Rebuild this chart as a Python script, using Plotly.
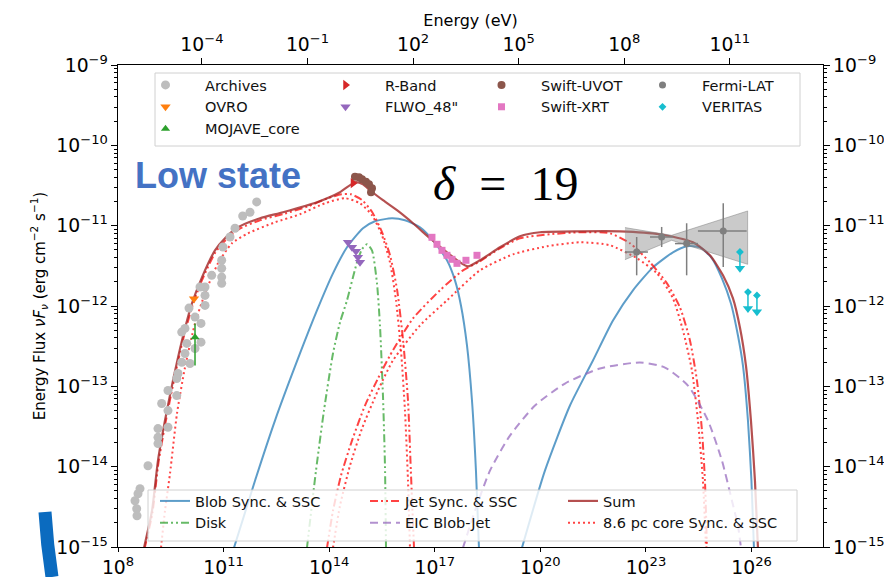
import plotly.graph_objects as go

H_EV_S = 4.135667e-15  # Planck constant (eV s), converts frequency to photon energy

# ---------------- model curves: log10(nu/Hz), log10(nuFnu / erg cm^-2 s^-1) ----------------
blob_sync_lognu = [11.295, 11.892, 12.46, 13.17, 13.653, 14.108, 14.506, 14.96, 15.301, 15.784,
                   16.153, 16.58, 16.949, 17.347, 17.574, 17.744, 17.915, 18.057, 18.17, 18.256]
blob_sync_logf = [-15.01, -14.175, -13.426, -12.591, -12.055, -11.594, -11.269, -11.032, -10.945, -10.908,
                  -10.933, -11.02, -11.182, -11.431, -11.681, -11.993, -12.491, -13.177, -14.05, -15.01]
blob_ssc_lognu = [19.477, 20.13, 20.841, 21.494, 22.063, 22.631, 23.199, 23.767, 24.165, 24.534,
                  24.875, 25.159, 25.415, 25.614, 25.756, 25.898, 25.997, 26.068]
blob_ssc_logf = [-15.01, -14.05, -13.239, -12.678, -12.18, -11.805, -11.519, -11.332, -11.257, -11.269,
                 -11.406, -11.656, -11.968, -12.367, -12.741, -13.426, -14.175, -15.01]

disk_lognu = [13.369, 13.625, 13.852, 14.108, 14.307, 14.506, 14.79, 14.932, 15.074, 15.216,
              15.358, 15.443, 15.528, 15.585, 15.614]
disk_logf = [-15.01, -14.05, -13.302, -12.591, -12.204, -11.93, -11.456, -11.294, -11.232, -11.307,
             -11.718, -12.242, -13.115, -13.988, -15.01]

jet_sync_lognu = [8.75, 8.98, 9.15, 9.35, 9.58, 9.83, 10.12, 10.40, 10.77, 11.06, 11.43, 12.05, 12.70,
                  13.40, 13.95, 14.35, 14.62, 14.93, 15.22, 15.50, 15.73, 15.93, 16.10, 16.24, 16.32, 16.41]
jet_sync_logf = [-15.03, -14.57, -13.95, -13.45, -12.95, -12.45, -11.99, -11.665, -11.33, -11.18, -11.045,
                 -10.93, -10.855, -10.76, -10.66, -10.61, -10.61, -10.68, -10.83, -11.08, -11.37, -11.80,
                 -12.43, -13.18, -14.05, -15.01]
jet_ssc_lognu = [13.938, 14.108, 14.335, 14.648, 15.017, 15.386, 15.727, 16.381, 17.148, 17.801, 18.284,
                 18.852, 19.42, 20.273, 21.125, 21.977, 22.545, 23.114, 23.597, 23.966, 24.25, 24.449,
                 24.591, 24.676, 24.733]
jet_ssc_logf = [-15.01, -14.549, -14.112, -13.676, -13.239, -12.903, -12.616, -12.155, -11.805, -11.556,
                -11.444, -11.282, -11.157, -11.107, -11.082, -11.095, -11.219, -11.456, -11.718, -12.017,
                -12.429, -12.928, -13.551, -14.175, -15.01]

eic_lognu = [17.801, 18.142, 18.568, 19.136, 19.847, 20.699, 21.693, 22.83, 23.54, 24.193, 24.761,
             25.159, 25.443, 25.614, 25.699]
eic_logf = [-15.01, -14.549, -14.05, -13.614, -13.239, -12.965, -12.778, -12.703, -12.766, -12.99,
            -13.426, -13.925, -14.424, -14.736, -15.01]

sum_lognu = [8.739, 8.966, 9.136, 9.335, 9.563, 9.818, 10.102, 10.386, 10.756, 11.04, 11.409, 12.034,
             12.688, 13.653, 14.307, 14.733, 14.96, 15.159, 15.528, 15.926, 16.381, 16.864, 17.347,
             17.716, 17.943, 18.284, 18.852, 19.42, 19.989, 21.125, 22.261, 23.398, 24.335, 24.818,
             25.188, 25.472, 25.67, 25.841, 25.983, 26.097, 26.182]
sum_logf = [-15.01, -14.549, -13.925, -13.426, -12.928, -12.429, -11.968, -11.643, -11.307, -11.157,
            -11.02, -10.908, -10.833, -10.708, -10.584, -10.459, -10.484, -10.559, -10.683, -10.808,
            -10.970, -11.157, -11.332, -11.456, -11.506, -11.431, -11.269, -11.132, -11.082, -11.07,
            -11.07, -11.107, -11.207, -11.369, -11.618, -11.905, -12.267, -12.741, -13.426, -14.175, -15.01]

core_sync_lognu = [9.222, 9.335, 9.477, 9.676, 9.903, 10.188, 10.472, 10.841, 11.239, 11.693, 12.46,
                   13.17, 13.881, 14.449, 14.875, 15.216, 15.5, 15.727, 15.898, 16.04, 16.153, 16.239, 16.295]
core_sync_logf = [-15.01, -14.549, -14.087, -13.339, -12.766, -12.217, -11.843, -11.469, -11.219, -11.095,
                  -10.958, -10.858, -10.721, -10.658, -10.721, -10.870, -11.12, -11.456, -11.93, -12.554,
                  -13.302, -14.175, -15.01]
core_ssc_lognu = [14.108, 14.307, 14.591, 14.932, 15.386, 15.812, 16.58, 17.347, 18.284, 19.222, 20.188,
                  21.125, 21.977, 22.744, 23.313, 23.767, 24.051, 24.307, 24.477, 24.619, 24.705]
core_ssc_logf = [-15.01, -14.486, -13.988, -13.526, -13.052, -12.678, -12.242, -11.93, -11.556, -11.357,
                 -11.257, -11.207, -11.244, -11.406, -11.594, -11.905, -12.304, -12.803, -13.426, -14.175,
                 -15.01]

# ---------------- observations (log10 values) ----------------
archives_lognu = [11.94, 11.75, 11.543, 11.324, 11.182, 10.983, 10.946, 10.946, 10.946, 10.946, 10.662,
                  10.472, 10.472, 10.472, 10.33, 10.017, 10.188, 10.358, 9.903, 9.81, 10.358, 10.188,
                  9.952, 9.903, 10.045, 9.81, 9.705, 9.668, 9.42, 9.668, 9.241, 9.42, 9.42, 9.136, 9.136,
                  9.136, 8.852, 8.625, 8.568, 8.483, 8.531, 8.54]
archives_logf = [-10.704, -10.833, -10.879, -11.032, -11.141, -11.266, -11.431, -11.531, -11.64, -11.718,
                 -11.618, -11.764, -11.868, -11.993, -11.764, -12.026, -12.138, -12.217, -12.279, -12.325,
                 -12.45, -12.529, -12.466, -12.591, -12.716, -12.7, -12.84, -12.903, -13.052, -13.115,
                 -13.214, -13.302, -13.51, -13.526, -13.635, -13.713, -13.988, -14.274, -14.337, -14.424,
                 -14.524, -14.611]

ovro_lognu = [10.159]
ovro_logf = [-11.909]

mojave_lognu = [10.188]
mojave_logf = [-12.388]
mojave_logf_hi = [-12.217]
mojave_logf_lo = [-12.741]

rband_lognu = [14.676]
rband_logf = [-10.471]

uvot_lognu = [14.733, 14.847, 14.932, 15.045, 15.131, 15.216, 15.188]
uvot_logf = [-10.39, -10.397, -10.421, -10.453, -10.484, -10.534, -10.584]

flwo_lognu = [14.534, 14.648, 14.761, 14.818, 14.875]
flwo_logf = [-11.207, -11.269, -11.319, -11.394, -11.456]

xrt_lognu = [16.92, 17.063, 17.205, 17.347, 17.489, 17.631, 17.886, 18.199]
xrt_logf = [-11.145, -11.232, -11.307, -11.369, -11.419, -11.469, -11.431, -11.369]

lat_lognu = [22.736, 23.446, 24.156, 25.196]
lat_lognu_lo = [22.403, 23.114, 23.824, 24.477]
lat_lognu_hi = [23.057, 23.767, 24.477, 25.861]
lat_logf = [-11.328, -11.141, -11.223, -11.066]
lat_logf_lo = [-11.618, -11.266, -11.618, -11.515]
lat_logf_hi = [-11.141, -11.016, -10.970, -10.721]

# Fermi-LAT butterfly envelope (upper edge then lower edge)
bowtie_lognu = [22.403, 23.73, 25.889, 25.889, 23.73, 22.403]
bowtie_logf = [-11.024, -11.12, -10.817, -11.481, -11.182, -11.423]

veritas_lognu = [25.67, 25.898, 26.153]
veritas_logf = [-11.328, -11.827, -11.868]
veritas_arrow_logf = [-11.531, -12.03, -12.071]

# ---------------- helpers ----------------
def lin(vals):
    return [None if v is None else 10.0 ** v for v in vals]


def joined(x1, y1, x2, y2):
    return lin(x1) + [None] + lin(x2), lin(y1) + [None] + lin(y2)


# pixel -> paper conversion for the plot frame (left 118, right 823, top 65, bottom 547)
PL, PR, PT, PB = 118, 823, 65, 547


def px(x):
    return (x - PL) / (PR - PL)


def py(y):
    return (PB - y) / (PB - PT)


FONT = "DejaVu Sans"
fig = go.Figure()

line_kw = dict(mode="lines", line_shape="spline", hoverinfo="skip")

bx, by = joined(blob_sync_lognu, blob_sync_logf, blob_ssc_lognu, blob_ssc_logf)
fig.add_trace(go.Scatter(x=bx, y=by, name="Blob Sync. & SSC", legend="legend5", legendrank=1,
                         line=dict(color="rgba(31,119,180,0.72)", width=2, smoothing=0.6), **line_kw))
fig.add_trace(go.Scatter(x=lin(disk_lognu), y=lin(disk_logf), name="Disk", legend="legend5", legendrank=2,
                         line=dict(color="rgba(44,160,44,0.72)", width=2, smoothing=0.6,
                                   dash="8px,3px,2px,3px,2px,3px"), **line_kw))
jx, jy = joined(jet_sync_lognu, jet_sync_logf, jet_ssc_lognu, jet_ssc_logf)
fig.add_trace(go.Scatter(x=jx, y=jy, name="Jet Sync. & SSC", legend="legend6", legendrank=1,
                         line=dict(color="rgba(255,20,20,0.8)", width=2, smoothing=0.6,
                                   dash="8px,3px,2px,3px,2px,3px"), **line_kw))
fig.add_trace(go.Scatter(x=lin(eic_lognu), y=lin(eic_logf), name="EIC Blob-Jet", legend="legend6", legendrank=2,
                         line=dict(color="rgba(148,103,189,0.72)", width=2, smoothing=0.6,
                                   dash="8px,5px"), **line_kw))
cx, cy = joined(core_sync_lognu, core_sync_logf, core_ssc_lognu, core_ssc_logf)
fig.add_trace(go.Scatter(x=cx, y=cy, name="8.6 pc core Sync. & SSC", legend="legend7", legendrank=2,
                         line=dict(color="rgba(255,20,20,0.8)", width=2, smoothing=0.6,
                                   dash="2px,3px"), **line_kw))
fig.add_trace(go.Scatter(x=lin(sum_lognu), y=lin(sum_logf), name="Sum", legend="legend7", legendrank=1,
                         line=dict(color="rgba(165,42,42,0.82)", width=2.2, smoothing=0.6), **line_kw))

# Fermi-LAT butterfly
fig.add_trace(go.Scatter(x=lin(bowtie_lognu), y=lin(bowtie_logf), mode="lines", fill="toself",
                         fillcolor="rgba(128,128,128,0.42)", line=dict(color="rgba(128,128,128,0.5)", width=1),
                         showlegend=False, hoverinfo="skip"))

pt_kw = dict(mode="markers", hoverinfo="skip")

fig.add_trace(go.Scatter(x=lin(archives_lognu), y=lin(archives_logf), name="Archives",
                         legend="legend", legendrank=1,
                         marker=dict(symbol="circle", size=9, color="#bdbdbd"), **pt_kw))
fig.add_trace(go.Scatter(x=lin(ovro_lognu), y=lin(ovro_logf), name="OVRO", legend="legend", legendrank=2,
                         marker=dict(symbol="triangle-down", size=9, color="#ff7f0e"), **pt_kw))
m_y = 10.0 ** mojave_logf[0]
fig.add_trace(go.Scatter(x=lin(mojave_lognu), y=lin(mojave_logf), name="MOJAVE_core",
                         legend="legend", legendrank=3,
                         marker=dict(symbol="triangle-up", size=8, color="#2ca02c"),
                         error_y=dict(type="data", symmetric=False,
                                      array=[10.0 ** mojave_logf_hi[0] - m_y],
                                      arrayminus=[m_y - 10.0 ** mojave_logf_lo[0]],
                                      color="#2ca02c", thickness=1.5, width=0), **pt_kw))
fig.add_trace(go.Scatter(x=lin(uvot_lognu), y=lin(uvot_logf), name="Swift-UVOT", legend="legend3",
                         legendrank=1, marker=dict(symbol="circle", size=8, color="#8c564b"), **pt_kw))
fig.add_trace(go.Scatter(x=lin(rband_lognu), y=lin(rband_logf), name="R-Band", legend="legend2",
                         legendrank=1, marker=dict(symbol="triangle-right", size=9, color="#d62728"), **pt_kw))
fig.add_trace(go.Scatter(x=lin(flwo_lognu), y=lin(flwo_logf), name="FLWO_48\"", legend="legend2",
                         legendrank=2, marker=dict(symbol="triangle-down", size=9, color="#9467bd"), **pt_kw))
fig.add_trace(go.Scatter(x=lin(xrt_lognu), y=lin(xrt_logf), name="Swift-XRT", legend="legend3",
                         legendrank=2, marker=dict(symbol="square", size=7, color="#e377c2"), **pt_kw))

lat_x = lin(lat_lognu)
lat_y = lin(lat_logf)
fig.add_trace(go.Scatter(
    x=lat_x, y=lat_y, name="Fermi-LAT", legend="legend4", legendrank=1,
    marker=dict(symbol="circle", size=7, color="#7f7f7f"),
    error_x=dict(type="data", symmetric=False,
                 array=[10.0 ** h - v for h, v in zip(lat_lognu_hi, lat_x)],
                 arrayminus=[v - 10.0 ** l for l, v in zip(lat_lognu_lo, lat_x)],
                 color="#7f7f7f", thickness=1.5, width=0),
    error_y=dict(type="data", symmetric=False,
                 array=[10.0 ** h - v for h, v in zip(lat_logf_hi, lat_y)],
                 arrayminus=[v - 10.0 ** l for l, v in zip(lat_logf_lo, lat_y)],
                 color="#7f7f7f", thickness=1.5, width=0),
    **pt_kw))

# VERITAS upper limits: marker, stem and arrow head
ver_x = lin(veritas_lognu)
ver_y = lin(veritas_logf)
fig.add_trace(go.Scatter(
    x=ver_x, y=ver_y, name="VERITAS", legend="legend4", legendrank=2,
    marker=dict(symbol="diamond", size=6, color="#17becf"),
    error_y=dict(type="data", symmetric=False, array=[0] * len(ver_y),
                 arrayminus=[v - 10.0 ** a for v, a in zip(ver_y, veritas_arrow_logf)],
                 color="#17becf", thickness=1.5, width=0),
    **pt_kw))
fig.add_trace(go.Scatter(x=ver_x, y=lin(veritas_arrow_logf), mode="markers", showlegend=False,
                         hoverinfo="skip", marker=dict(symbol="triangle-down", size=9, color="#17becf")))

# traces that anchor the top (energy) and right axes
fig.add_trace(go.Scatter(x=[], y=[], xaxis="x2", yaxis="y", showlegend=False, hoverinfo="skip"))
fig.add_trace(go.Scatter(x=[], y=[], xaxis="x", yaxis="y2", showlegend=False, hoverinfo="skip"))

nu_min_log, nu_max_log = 8.0, 28.03
ev_shift = -14.3835  # log10(h in eV s)

tickfont = dict(family=FONT, size=15, color="black")
axis_common = dict(type="log", showgrid=False, zeroline=False, showline=True, linecolor="black",
                   linewidth=1.2, ticks="outside", tickwidth=1.2, tickcolor="black",
                   exponentformat="power", tickfont=tickfont, automargin=False)
y_minor = dict(ticks="outside", ticklen=3, tickwidth=1, tickcolor="black", dtick="D1", showgrid=False)

# legend columns: (legend id, left edge of entry in px, first row centre in px, symbol width)
LEG_FONT = dict(family=FONT, size=14.5, color="#111")
legend_cols = {
    "legend": (126, 86, 69), "legend2": (306, 86, 69), "legend3": (462, 86, 69), "legend4": (623, 86, 69),
    "legend5": (155, 502, 30), "legend6": (365, 502, 30), "legend7": (563, 502, 30),
}
legend_layout = {
    name: dict(x=px(lx), y=py(ry - 17), xanchor="left", yanchor="top", orientation="v",
               traceorder="normal", bgcolor="rgba(0,0,0,0)", borderwidth=0, font=LEG_FONT,
               tracegroupgap=0, itemwidth=iw)
    for name, (lx, ry, iw) in legend_cols.items()
}

fig.update_layout(
    width=884, height=577,
    margin=dict(l=PL, r=884 - PR, t=PT, b=577 - PB),
    paper_bgcolor="white", plot_bgcolor="white",
    font=dict(family=FONT, size=15, color="black"),
    xaxis=dict(range=[nu_min_log, nu_max_log], tick0=8, dtick=3, ticklen=4, **axis_common),
    xaxis2=dict(range=[nu_min_log + ev_shift, nu_max_log + ev_shift], tick0=-4, dtick=3, ticklen=6,
                overlaying="x", side="top",
                title=dict(text="Energy (eV)", font=dict(family=FONT, size=16), standoff=0),
                **axis_common),
    yaxis=dict(range=[-15, -9], dtick=1, ticklen=6, minor=y_minor,
               title=dict(text="Energy Flux <i>νF<sub>ν</sub></i> (erg cm<sup>−2</sup> s<sup>−1</sup>)",
                          font=dict(family=FONT, size=15), standoff=7),
               **axis_common),
    yaxis2=dict(range=[-15, -9], dtick=1, ticklen=6, minor=y_minor, overlaying="y", side="right",
                **axis_common),
    showlegend=True,
    **legend_layout,
)

# legend frames
for (x0, y0, x1, y1) in [(155, 73, 800, 146), (148, 490, 797, 541)]:
    fig.add_shape(type="rect", xref="paper", yref="paper", x0=px(x0), x1=px(x1), y0=py(y1), y1=py(y0),
                  fillcolor="rgba(255,255,255,0.8)", line=dict(color="#d0d0d0", width=1), layer="above")

fig.add_annotation(text="<b>Low state</b>", xref="paper", yref="paper",
                   x=px(218), y=py(175), xanchor="center", yanchor="middle", showarrow=False,
                   font=dict(family="Liberation Sans", size=36, color="#4472C4"))
fig.add_annotation(text="<i>δ</i>&nbsp;&nbsp;=&nbsp;&nbsp;19", xref="paper", yref="paper",
                   x=px(505), y=py(183), xanchor="center", yanchor="middle", showarrow=False,
                   font=dict(family="Liberation Serif", size=48, color="black"))

# blue page stroke in the lower-left corner
fig.add_shape(type="path", xref="paper", yref="paper",
              path=f"M {px(45)},{py(512)} Q {px(47)},{py(545)} {px(52)},{py(577)}",
              line=dict(color="#0b6bbf", width=13))

fig.write_html("out.html")
